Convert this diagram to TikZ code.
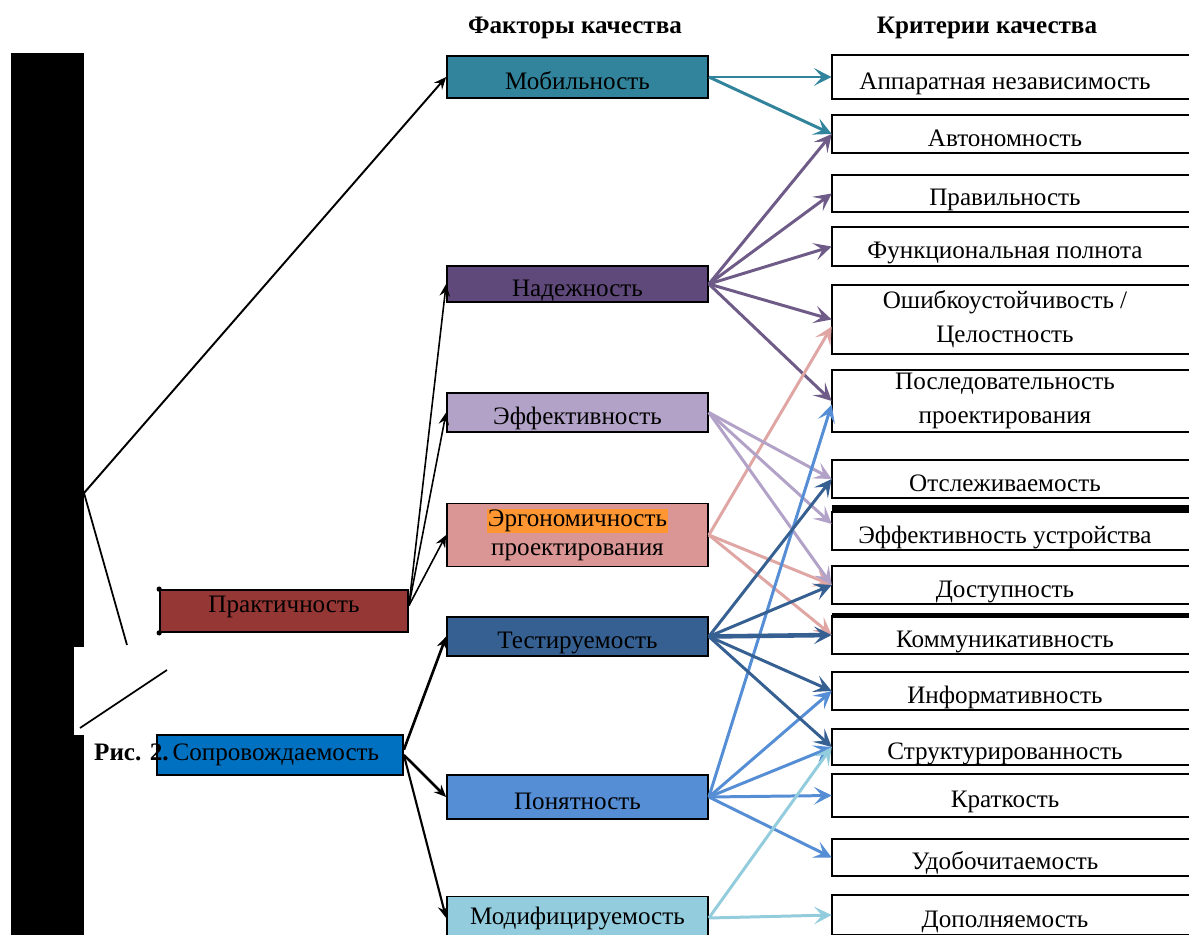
\documentclass[tikz,border=0pt]{standalone}
\usepackage{fontspec}
\setmainfont{Liberation Serif}
\usepackage{tikz}
\usetikzlibrary{arrows.meta,positioning,calc}
\definecolor{mobcol}{RGB}{49,132,155}
\definecolor{nadcol}{RGB}{95,73,122}
\definecolor{effcol}{RGB}{178,162,199}
\definecolor{ergcol}{RGB}{217,150,148}
\definecolor{testcol}{RGB}{54,96,146}
\definecolor{poncol}{RGB}{85,142,213}
\definecolor{modcol}{RGB}{147,205,221}
\definecolor{praktcol}{RGB}{149,55,53}
\definecolor{soprcol}{RGB}{0,112,192}
\definecolor{hilite}{RGB}{255,150,50}

\begin{document}
\begin{tikzpicture}[x=0.02cm, y=-0.02cm,
        font=\fontsize{14.3}{19.5}\selectfont,
        factor/.style={rectangle, draw=black, line width=1pt, minimum width=5.22cm,
                       align=center, inner sep=0pt},
        crit/.style={rectangle, minimum width=6.92cm, align=center, inner sep=0pt},
        lowtext/.style={text height=14pt, text depth=0pt},
        head/.style={font=\fontsize{14.3}{16}\selectfont\bfseries},
        link/.style={-{Stealth[length=10pt, width=10pt, inset=4.5pt]}, line width=1.7pt},
        blackarrow/.style={-{Stealth[length=7pt, width=6pt, inset=2.5pt]}, line width=0.9pt, black}
    ]
    \useasboundingbox (0,0) rectangle (1189,935);

    % column headers
    \node[head] (hfac) at (575,28) {Факторы качества};
    \node[head] (hcrit) at (987,28) {Критерии качества};

    % black bar on the left
    \fill[black] (11,53) rectangle (84,940);
    \fill[white] (74,647) rectangle (84,735);
    \coordinate (root) at (84,493);
    \coordinate (cut1) at (127,645);
    \coordinate (cut2) at (80,728);
    \coordinate (cut3) at (167,670);

    % factors
    \node[factor, lowtext, fill=mobcol, minimum height=0.84cm] (mob) at (577.5,77) {Мобильность};
    \node[factor, lowtext, fill=nadcol, minimum height=0.72cm] (nad) at (577.5,284) {Надежность};
    \node[factor, lowtext, fill=effcol, minimum height=0.78cm] (eff) at (577.5,412.5) {Эффективность};
    \node[factor, fill=ergcol, minimum height=1.26cm, font=\fontsize{14.3}{16.5}\selectfont] (erg) at (577.5,535)
        {{\fboxsep=0.5pt\colorbox{hilite}{Эргономичность}}\\проектирования};
    \node[factor, lowtext, fill=testcol, minimum height=0.78cm] (test) at (577.5,636.5) {Тестируемость};
    \node[factor, lowtext, fill=poncol, minimum height=0.88cm] (pon) at (577.5,797) {Понятность};
    \node[factor, fill=modcol, minimum height=0.86cm] (mod) at (577.5,918) {Модифицируемость};

    \node[factor, fill=praktcol, minimum width=4.96cm, minimum height=0.84cm,
          text height=9pt, text depth=7pt] (prakt) at (284,611) {Практичность};
    \fill (prakt.north west) circle (1.5pt);
    \fill (prakt.south west) circle (1.5pt);
    \node[factor, fill=soprcol, minimum width=4.92cm, minimum height=0.8cm,
          text width=4.3cm, align=left] (sopr) at (280,755) {Сопровождаемость};
    \node[head, anchor=east, inner sep=0pt] (fig) at (169,752) {Рис. 2.};

    % criteria
    \node[crit, lowtext, minimum height=0.88cm] (c1) at (1005,77) {Аппаратная независимость};
    \node[crit, lowtext, minimum height=0.76cm] (c2) at (1005,134) {Автономность};
    \node[crit, lowtext, minimum height=0.74cm] (c3) at (1005,193.5) {Правильность};
    \node[crit, lowtext, minimum height=0.78cm] (c4) at (1005,246.5) {Функциональная полнота};
    \node[crit, minimum height=1.38cm] (c5) at (1005,319.5) {Ошибкоустойчивость /\\Целостность};
    \node[crit, minimum height=1.24cm] (c6) at (1005,401) {Последовательность\\проектирования};
    \node[crit, lowtext, minimum height=0.76cm] (c7) at (1005,479) {Отслеживаемость};
    \node[crit, lowtext, minimum height=0.76cm] (c8) at (1005,531) {Эффективность устройства};
    \node[crit, lowtext, minimum height=0.76cm] (c9) at (1005,585) {Доступность};
    \node[crit, lowtext, minimum height=0.76cm] (c10) at (1005,635) {Коммуникативность};
    \node[crit, lowtext, minimum height=0.76cm] (c11) at (1005,691) {Информативность};
    \node[crit, lowtext, minimum height=0.72cm] (c12) at (1005,747) {Структурированность};
    \node[crit, lowtext, minimum height=0.86cm] (c13) at (1005,795.5) {Краткость};
    \node[crit, lowtext, minimum height=0.74cm] (c14) at (1005,857.5) {Удобочитаемость};
    \node[crit, lowtext, minimum height=0.80cm] (c15) at (1005,915) {Дополняемость};
    \foreach \c in {c1,c2,c3,c4,c5,c6,c7,c8,c9,c10,c11,c12,c13,c14,c15}
        \draw[line width=1pt] (\c.north west) rectangle ($(\c.south east)+(30,0)$);
    \draw[line width=4pt] ([yshift=2pt]c8.north west) -- ++(400,0);
    \draw[line width=2.5pt] (c10.north west) -- ++(400,0);

    % black connectors
    \draw[blackarrow, line width=1.1pt] (root) -- (mob.west);
    \draw[line width=1pt] (root) -- (cut1);
    \draw[line width=1pt] (cut2) -- (cut3);
    \draw[blackarrow] ([yshift=3pt]prakt.east) -- (nad.west);
    \draw[blackarrow] ([yshift=3pt]prakt.east) -- (eff.west);
    \draw[blackarrow] ([yshift=3pt]prakt.east) -- (erg.west);
    \draw[blackarrow, line width=1.5pt] ([yshift=3pt]sopr.east) -- (test.west);
    \draw[blackarrow, line width=1.5pt] (sopr.east) -- (pon.west);
    \draw[blackarrow, line width=1.2pt] (sopr.east) -- (mod.west);

    % coloured connectors
    \draw[link, mobcol] (mob.east) -- (c1.west);
    \draw[link, mobcol] (mob.east) -- (c2.west);

    \draw[link, nadcol!90] (nad.east) -- (c2.west);
    \draw[link, nadcol!90] (nad.east) -- (c3.west);
    \draw[link, nadcol!90] (nad.east) -- (c4.west);
    \draw[link, nadcol!90] (nad.east) -- (c5.west);
    \draw[link, nadcol!90] (nad.east) -- (c6.west);

    \draw[link, ergcol!85] (erg.east) -- ([yshift=-4pt]c5.west);
    \draw[link, ergcol!85] (erg.east) -- (c9.west);
    \draw[link, ergcol!85] (erg.east) -- (c10.west);

    \draw[link, effcol] (eff.east) -- (c7.west);
    \draw[link, effcol] (eff.east) -- ([yshift=4pt]c8.west);
    \draw[link, effcol] (eff.east) -- (c9.west);

    \draw[link, poncol] (pon.east) -- ([yshift=-2pt]c6.west);
    \draw[link, poncol] (pon.east) -- (c11.west);
    \draw[link, poncol] (pon.east) -- (c12.west);
    \draw[link, poncol] (pon.east) -- (c13.west);
    \draw[link, poncol] (pon.east) -- (c14.west);

    \draw[link, testcol] (test.east) -- (c7.west);
    \draw[link, testcol] (test.east) -- (c9.west);
    \draw[link, testcol, line width=2.6pt] (test.east) -- (c10.west);
    \draw[link, testcol] (test.east) -- (c11.west);
    \draw[link, testcol] (test.east) -- (c12.west);

    \draw[link, modcol] (mod.east) -- (c12.west);
    \draw[link, modcol] (mod.east) -- (c15.west);
\end{tikzpicture}
\end{document}
